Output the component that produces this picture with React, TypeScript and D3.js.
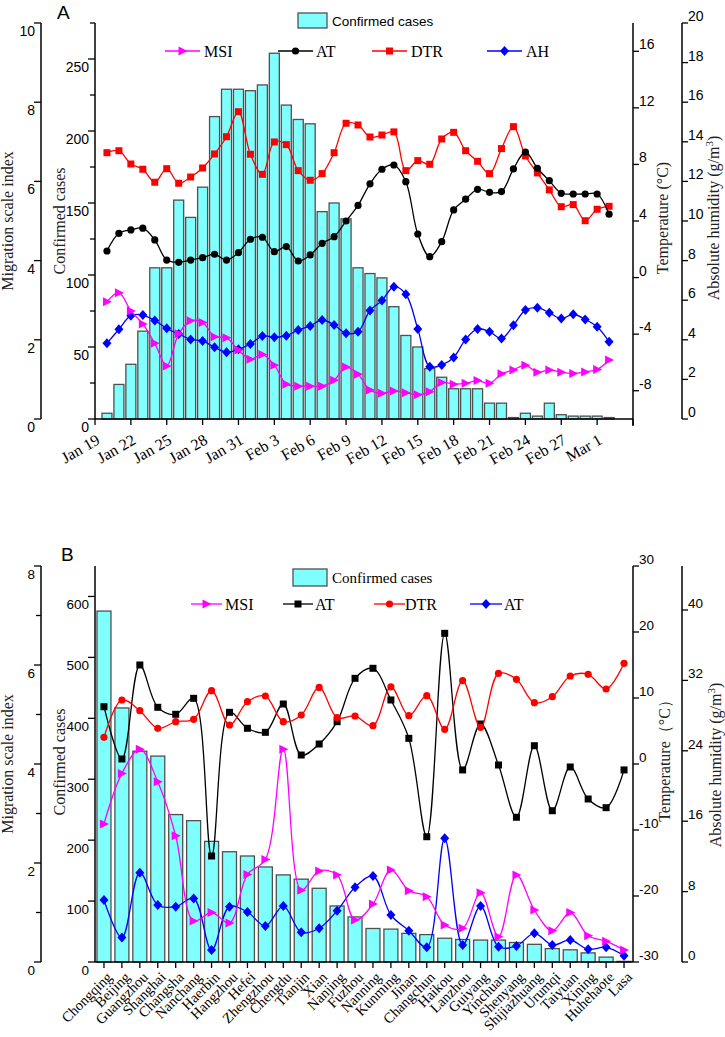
import React from "react";
import * as d3 from "d3";

// ---------------- Panel A data (daily, Jan 20 – Mar 2, 2020) ----------------
const dayOffsetsA = d3.range(1, 44); // days after Jan 19
const tickLabelsA = ["Jan 19", "Jan 22", "Jan 25", "Jan 28", "Jan 31", "Feb 3", "Feb 6", "Feb 9", "Feb 12", "Feb 15", "Feb 18", "Feb 21", "Feb 24", "Feb 27", "Mar 1"];
const casesA = [4, 24, 38, 61, 105, 105, 152, 140, 161, 210, 229, 229, 228, 232, 254, 218, 208, 205, 144, 150, 139, 105, 101, 98, 78, 58, 50, 35, 29, 21, 21, 21, 11, 11, 1, 4, 2, 11, 3, 2, 2, 2, 1];
const msiA = [2.96, 3.19, 2.73, 2.4, 1.91, 1.34, 2.15, 2.48, 2.44, 2.08, 2.05, 1.74, 1.51, 1.63, 1.36, 0.88, 0.83, 0.83, 0.83, 0.98, 1.31, 1.13, 0.73, 0.65, 0.71, 0.66, 0.61, 0.69, 0.92, 0.88, 0.9, 0.97, 0.9, 1.14, 1.24, 1.36, 1.18, 1.24, 1.18, 1.15, 1.19, 1.25, 1.49];
const atA = [1.88, 3.13, 3.37, 3.49, 2.66, 1.24, 1.08, 1.24, 1.41, 1.65, 1.24, 1.76, 2.71, 2.85, 1.83, 2.19, 1.17, 1.6, 2.42, 2.89, 4.0, 5.1, 6.63, 7.66, 7.96, 6.78, 3.08, 1.48, 2.54, 4.78, 5.54, 6.24, 6.03, 6.08, 7.68, 8.88, 7.73, 6.85, 5.96, 5.91, 5.91, 5.91, 4.48];
const dtrA = [8.83, 8.97, 8.03, 7.66, 6.74, 7.7, 6.67, 7.11, 7.75, 8.74, 9.96, 11.73, 8.72, 7.3, 9.59, 9.4, 7.56, 6.88, 7.35, 8.83, 10.91, 10.79, 9.94, 10.08, 10.3, 7.56, 8.27, 8.01, 9.8, 10.27, 8.97, 8.22, 7.35, 9.12, 10.67, 8.6, 7.4, 6.2, 5.01, 5.16, 4.02, 4.83, 5.04];
const ahA = [3.82, 4.53, 5.22, 5.25, 4.97, 4.58, 4.29, 4.02, 3.94, 3.62, 3.37, 3.52, 3.79, 4.19, 4.13, 4.21, 4.49, 4.7, 5.0, 4.75, 4.33, 4.41, 5.48, 5.98, 6.68, 6.3, 4.55, 2.64, 2.73, 3.11, 4.02, 4.55, 4.41, 4.07, 4.73, 5.5, 5.62, 5.37, 5.07, 5.29, 5.03, 4.66, 3.9];

const migTicksA = [0, 2, 4, 6, 8, 10];
const caseTicksA = [0, 25, 50, 75, 100, 125, 150, 175, 200, 225, 250, 275];
const caseLabelsA = [0, 50, 100, 150, 200, 250];
const tempTicksA = [-8, -4, 0, 4, 8, 12, 16];
const humTicksA = [0, 2, 4, 6, 8, 10, 12, 14, 16, 18, 20];

// ---------------- Panel B data (cities) ----------------
const cities = ["Chongqing", "Beijing", "Guangzhou", "Shanghai", "Changsha", "Nanchang", "Haerbin", "Hangzhou", "Hefei", "Zhengzhou", "Chengdu", "Tianjin", "Xian", "Nanjing", "Fuzhou", "Nanning", "Kunming", "Jinan", "Changchun", "Haikou", "Lanzhou", "Guiyang", "Yinchuan", "Shenyang", "Shijiazhuang", "Urumqi", "Taiyuan", "Xining", "Huhehaote", "Lasa"];
const casesB = [576, 417, 346, 338, 242, 232, 198, 181, 174, 156, 143, 136, 121, 92, 74, 55, 54, 47, 45, 39, 37, 36, 36, 32, 29, 22, 20, 15, 8, 1];
const msiB = [2.79, 3.81, 4.3, 3.64, 2.55, 0.83, 1.0, 0.79, 1.77, 2.07, 4.3, 1.45, 1.84, 1.76, 0.85, 1.17, 1.86, 1.44, 1.32, 0.75, 0.68, 1.4, 0.51, 1.76, 1.05, 0.63, 1.0, 0.53, 0.42, 0.24];
const atB = [8.68, 0.76, 15.0, 8.59, 7.53, 9.95, -13.94, 7.83, 5.41, 4.8, 9.09, 1.36, 3.03, 6.41, 12.98, 14.5, 9.7, 3.89, -11.02, 19.8, -0.9, 6.06, -0.15, -8.07, 2.77, -7.08, -0.45, -5.3, -6.62, -0.9];
const dtrB = [4.04, 9.7, 8.08, 5.41, 6.41, 6.77, 11.11, 5.91, 9.44, 10.3, 6.41, 7.42, 11.6, 7.02, 7.27, 5.8, 11.7, 7.32, 10.35, 5.25, 12.62, 5.56, 13.74, 12.83, 9.29, 10.2, 13.33, 13.59, 11.36, 15.26];
const ahB = [7.05, 2.77, 10.15, 6.48, 6.29, 7.23, 1.36, 6.29, 5.68, 4.09, 6.36, 3.37, 3.83, 5.83, 8.49, 9.77, 5.34, 3.56, 1.67, 14.05, 1.93, 6.36, 1.74, 1.82, 3.26, 1.93, 2.5, 1.44, 1.67, 0.72];

const migTicksB = [0, 1, 2, 3, 4, 5, 6, 7, 8];
const migLabelsB = [0, 2, 4, 6, 8];
const caseTicksB = [0, 100, 200, 300, 400, 500, 600];
const tempTicksB = [-30, -20, -10, 0, 10, 20, 30];
const humTicksB = [0, 8, 16, 24, 32, 40];

const SERIF = "'Liberation Serif','Times New Roman',serif";
const SANS = "'Liberation Sans',Arial,sans-serif";
const CYAN = "#80FFFF";
const MAG = "#FF00FF";
const RED = "#FF0000";
const BLUE = "#0000FF";

type Shape = "tri" | "circle" | "square" | "diamond";

function Marker({ shape, x, y, color }: { shape: Shape; x: number; y: number; color: string }) {
  if (shape === "tri") return <path d={`M${x - 4},${y - 4.5}L${x + 5},${y}L${x - 4},${y + 4.5}Z`} fill={color} />;
  if (shape === "circle") return <circle cx={x} cy={y} r={3.6} fill={color} />;
  if (shape === "square") return <rect x={x - 3.5} y={y - 3.5} width={7} height={7} fill={color} />;
  return <path d={`M${x},${y - 5}L${x + 4.5},${y}L${x},${y + 5}L${x - 4.5},${y}Z`} fill={color} />;
}

const lineGen = d3.line<[number, number]>().curve(d3.curveCatmullRom.alpha(0.5));

function Series({ pts, color, shape }: { pts: [number, number][]; color: string; shape: Shape }) {
  return (
    <g>
      <path d={lineGen(pts) || ""} fill="none" stroke={color} strokeWidth={1.3} />
      {pts.map((p, i) => (
        <Marker key={i} shape={shape} x={p[0]} y={p[1]} color={color} />
      ))}
    </g>
  );
}

function LegendItem({ x1, x2, y, color, shape, label, tx }: { x1: number; x2: number; y: number; color: string; shape: Shape; label: string; tx: number }) {
  return (
    <g>
      <line x1={x1} x2={x2} y1={y} y2={y} stroke={color} strokeWidth={1.3} />
      <Marker shape={shape} x={(x1 + x2) / 2} y={y} color={color} />
      <text x={tx} y={y + 6} fontFamily={SERIF} fontSize={16}>{label}</text>
    </g>
  );
}

function LeftAxis({ x, scale, ticks, labels, top, bottom, fs }: { x: number; scale: d3.ScaleLinear<number, number>; ticks: number[]; labels: number[]; top: number; bottom: number; fs: number }) {
  return (
    <g>
      <line x1={x} x2={x} y1={top} y2={bottom} stroke="#000" strokeWidth={1.5} />
      {ticks.map((t) => {
        const major = labels.includes(t);
        return <line key={t} x1={x - (major ? 7 : 5)} x2={x} y1={scale(t)} y2={scale(t)} stroke="#000" strokeWidth={1.3} />;
      })}
      {labels.map((t) => (
        <text key={"l" + t} x={x - 6} y={scale(t) + 13} textAnchor="end" fontFamily={SANS} fontSize={fs}>{t}</text>
      ))}
    </g>
  );
}

function RightAxis({ x, scale, ticks, top, bottom, fs }: { x: number; scale: d3.ScaleLinear<number, number>; ticks: number[]; top: number; bottom: number; fs: number }) {
  return (
    <g>
      <line x1={x} x2={x} y1={top} y2={bottom} stroke="#000" strokeWidth={1.5} />
      {ticks.map((t) => (
        <g key={t}>
          <line x1={x} x2={x + 6} y1={scale(t)} y2={scale(t)} stroke="#000" strokeWidth={1.3} />
          <text x={x + 6} y={scale(t) - 2} fontFamily={SANS} fontSize={fs}>{t}</text>
        </g>
      ))}
    </g>
  );
}

function VTitle({ x, y, children, fs = 16 }: { x: number; y: number; children: React.ReactNode; fs?: number }) {
  return (
    <text transform={`translate(${x},${y}) rotate(-90)`} textAnchor="middle" fontFamily={SERIF} fontSize={fs} fill="#222">
      {children}
    </text>
  );
}

export default function App() {
  // ---------- Panel A scales ----------
  const aTop = 23, aBot = 419, aL = 95, aR = 633;
  const xA = d3.scaleLinear().domain([0, 45]).range([aL, aR]);
  const yCasesA = d3.scaleLinear().domain([0, 275]).range([aBot, aTop]);
  const yMigA = d3.scaleLinear().domain([0, 10]).range([aBot, aTop]);
  const yTempA = d3.scaleLinear().domain([-10, 18]).range([aBot, aTop]);
  const yHumA = d3.scaleLinear().domain([0, 20]).range([aBot, aTop]);
  const xTicksA = d3.range(0, 46, 3);

  // ---------- Panel B scales ----------
  const bTop = 566, bBot = 962, bL = 95, bR = 633;
  const xB = d3.scaleBand<string>().domain(cities).range([bL, bR]).paddingInner(0.22).paddingOuter(0.11);
  const cx = (c: string) => (xB(c) as number) + xB.bandwidth() / 2;
  const yCasesB = d3.scaleLinear().domain([0, 650]).range([bBot, bTop]);
  const yMigB = d3.scaleLinear().domain([0, 8]).range([bBot, bTop]);
  const yTempB = d3.scaleLinear().domain([-30, 30]).range([bBot, bTop]);
  const yHumB = d3.scaleLinear().domain([0, 45]).range([bBot, bTop]);

  const ptsA = (vals: number[], y: d3.ScaleLinear<number, number>) => vals.map((v, i) => [xA(dayOffsetsA[i]), y(v)] as [number, number]);
  const ptsB = (vals: number[], y: d3.ScaleLinear<number, number>) => vals.map((v, i) => [cx(cities[i]), y(v)] as [number, number]);

  return (
    <svg width={725} height={1037} style={{ position: "absolute", left: 0, top: 0, background: "#fff" }}>
      {/* ================= PANEL A ================= */}
      <text x={57} y={19} fontFamily={SANS} fontSize={19}>A</text>
      {casesA.map((v, i) => (
        <rect key={i} x={xA(dayOffsetsA[i]) - 5} y={yCasesA(v)} width={10} height={aBot - yCasesA(v)} fill={CYAN} stroke="#505050" strokeWidth={1.3} />
      ))}
      <Series pts={ptsA(dtrA, yTempA)} color={RED} shape="square" />
      <Series pts={ptsA(atA, yTempA)} color="#000" shape="circle" />
      <Series pts={ptsA(ahA, yHumA)} color={BLUE} shape="diamond" />
      <Series pts={ptsA(msiA, yMigA)} color={MAG} shape="tri" />

      {/* axes A */}
      <LeftAxis x={41} scale={yMigA} ticks={migTicksA} labels={migTicksA} top={aTop} bottom={aBot} fs={14} />
      <LeftAxis x={aL} scale={yCasesA} ticks={caseTicksA} labels={caseLabelsA} top={aTop} bottom={aBot} fs={14} />
      <RightAxis x={aR} scale={yTempA} ticks={tempTicksA} top={aTop} bottom={aBot} fs={14} />
      <line x1={aR} x2={aR} y1={aBot} y2={aBot + 7} stroke="#000" strokeWidth={1.5} />
      <RightAxis x={682} scale={yHumA} ticks={humTicksA} top={aTop} bottom={aBot} fs={14} />
      <line x1={aL} x2={aR} y1={aBot} y2={aBot} stroke="#000" strokeWidth={1.5} />
      {xTicksA.map((d, i) => (
        <g key={d}>
          <line x1={xA(d)} x2={xA(d)} y1={aBot} y2={aBot + 6} stroke="#000" strokeWidth={1.3} />
          {tickLabelsA[i] && (
            <text transform={`translate(${xA(d) + 6},${aBot + 24}) rotate(-30)`} textAnchor="end" fontFamily={SERIF} fontSize={16}>
              {tickLabelsA[i]}
            </text>
          )}
        </g>
      ))}
      <VTitle x={13} y={221}>Migration scale index</VTitle>
      <VTitle x={65} y={221}>Confirmed cases</VTitle>
      <VTitle x={668} y={218}>Temperature (°C)</VTitle>
      <VTitle x={719} y={218}>
        Absolute humidity (g/m<tspan dy={-6} fontSize={11}>3</tspan><tspan dy={6}>)</tspan>
      </VTitle>

      {/* legend A */}
      <rect x={298} y={13} width={29} height={15} fill={CYAN} stroke="#505050" strokeWidth={1.3} />
      <text x={332} y={26} fontFamily={SANS} fontSize={13.5}>Confirmed cases</text>
      <LegendItem x1={165} x2={200} y={51} color={MAG} shape="tri" label="MSI" tx={204} />
      <LegendItem x1={278} x2={313} y={51} color="#000" shape="circle" label="AT" tx={316} />
      <LegendItem x1={372} x2={407} y={51} color={RED} shape="square" label="DTR" tx={411} />
      <LegendItem x1={487} x2={522} y={51} color={BLUE} shape="diamond" label="AH" tx={526} />

      {/* ================= PANEL B ================= */}
      <text x={61} y={561} fontFamily={SANS} fontSize={19}>B</text>
      {cities.map((c, i) => (
        <rect key={c} x={xB(c)} y={yCasesB(casesB[i])} width={xB.bandwidth()} height={bBot - yCasesB(casesB[i])} fill={CYAN} stroke="#505050" strokeWidth={1.3} />
      ))}
      <Series pts={ptsB(atB, yTempB)} color="#000" shape="square" />
      <Series pts={ptsB(dtrB, yTempB)} color={RED} shape="circle" />
      <Series pts={ptsB(ahB, yHumB)} color={BLUE} shape="diamond" />
      <Series pts={ptsB(msiB, yMigB)} color={MAG} shape="tri" />

      {/* axes B */}
      <LeftAxis x={41} scale={yMigB} ticks={migTicksB} labels={migLabelsB} top={bTop} bottom={bBot} fs={13.5} />
      <LeftAxis x={bL} scale={yCasesB} ticks={caseTicksB} labels={caseTicksB} top={bTop} bottom={bBot} fs={13.5} />
      <RightAxis x={bR} scale={yTempB} ticks={tempTicksB} top={bTop} bottom={bBot} fs={13.5} />
      <RightAxis x={682} scale={yHumB} ticks={humTicksB} top={bTop} bottom={bBot} fs={13.5} />
      <line x1={bL} x2={bR} y1={bBot} y2={bBot} stroke="#000" strokeWidth={1.5} />
      {cities.map((c) => (
        <g key={"t" + c}>
          <line x1={cx(c)} x2={cx(c)} y1={bBot} y2={bBot + 6} stroke="#000" strokeWidth={1.3} />
          <text transform={`translate(${cx(c) + 9},${bBot + 16}) rotate(-45)`} textAnchor="end" fontFamily={SERIF} fontSize={14.5}>
            {c}
          </text>
        </g>
      ))}
      <VTitle x={13} y={764}>Migration scale index</VTitle>
      <VTitle x={65} y={762}>Confirmed cases</VTitle>
      <VTitle x={670} y={757}>Temperature（°C）</VTitle>
      <VTitle x={721} y={765}>
        Absolute humidity (g/m<tspan dy={-6} fontSize={11}>3</tspan><tspan dy={6}>)</tspan>
      </VTitle>

      {/* legend B */}
      <rect x={293} y={569} width={34} height={17} fill={CYAN} stroke="#505050" strokeWidth={1.3} />
      <text x={332} y={583} fontFamily={SERIF} fontSize={15}>Confirmed cases</text>
      <LegendItem x1={191} x2={222} y={604} color={MAG} shape="tri" label="MSI" tx={225} />
      <LegendItem x1={283} x2={313} y={604} color="#000" shape="square" label="AT" tx={315} />
      <LegendItem x1={374} x2={405} y={604} color={RED} shape="circle" label="DTR" tx={405} />
      <LegendItem x1={470} x2={502} y={604} color={BLUE} shape="diamond" label="AT" tx={504} />
    </svg>
  );
}
